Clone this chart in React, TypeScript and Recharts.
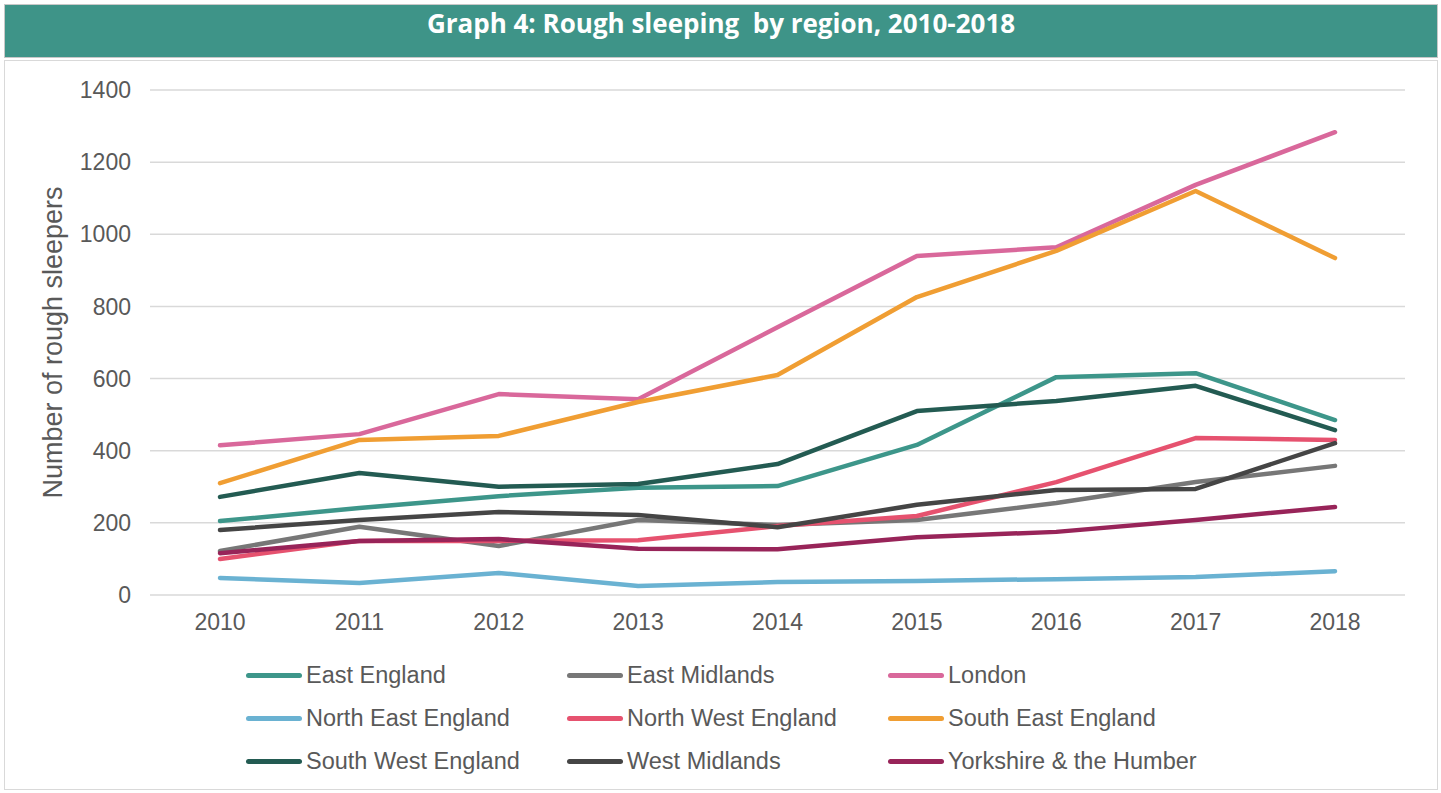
import React from 'react'
import { LineChart, Line, XAxis, YAxis, CartesianGrid, Label } from 'recharts'

const years = ['2010', '2011', '2012', '2013', '2014', '2015', '2016', '2017', '2018']

const eastEngland = [205, 241, 274, 297, 302, 416, 604, 615, 485]
const eastMidlands = [122, 189, 136, 208, 194, 208, 255, 313, 358]
const london = [415, 446, 557, 543, 742, 940, 964, 1137, 1283]
const northEast = [47, 33, 61, 25, 36, 39, 44, 50, 66]
const northWest = [100, 150, 150, 152, 191, 219, 313, 435, 430]
const southEast = [310, 430, 441, 535, 610, 826, 954, 1120, 934]
const southWest = [272, 338, 300, 308, 363, 510, 538, 580, 457]
const westMidlands = [180, 208, 230, 222, 188, 250, 291, 294, 421]
const yorkshire = [116, 150, 155, 128, 127, 160, 175, 208, 244]

const yTicks = [0, 200, 400, 600, 800, 1000, 1200, 1400]

const series = [
  { key: 'eastEngland', name: 'East England', values: eastEngland, color: '#3d968a' },
  { key: 'eastMidlands', name: 'East Midlands', values: eastMidlands, color: '#777777' },
  { key: 'london', name: 'London', values: london, color: '#d9689b' },
  { key: 'northEast', name: 'North East England', values: northEast, color: '#6ab2d2' },
  { key: 'northWest', name: 'North West England', values: northWest, color: '#e6526f' },
  { key: 'southEast', name: 'South East England', values: southEast, color: '#f09e33' },
  { key: 'southWest', name: 'South West England', values: southWest, color: '#235b52' },
  { key: 'westMidlands', name: 'West Midlands', values: westMidlands, color: '#454545' },
  { key: 'yorkshire', name: 'Yorkshire & the Humber', values: yorkshire, color: '#982459' },
]

const data = years.map((year, i) => {
  const row: Record<string, string | number> = { year }
  series.forEach((s) => {
    row[s.key] = s.values[i]
  })
  return row
})

const axisFont = '"Liberation Sans", Arial, sans-serif'

function YTitle(props: any) {
  const vb = props.viewBox || {}
  const cx = 53
  const cy = (vb.y ?? 0) + (vb.height ?? 0) / 2
  return (
    <text
      x={cx}
      y={cy}
      transform={`rotate(-90, ${cx}, ${cy})`}
      textAnchor="middle"
      dominantBaseline="central"
      fontSize={27}
      fontFamily={axisFont}
      fill="#595959"
    >
      Number of rough sleepers
    </text>
  )
}

export default function App() {
  return (
    <div
      style={{
        position: 'absolute',
        left: 0,
        top: 0,
        width: 1441,
        height: 793,
        background: '#fff',
        fontFamily: axisFont,
      }}
    >
      <div
        style={{
          position: 'absolute',
          left: 4,
          top: 4,
          width: 1432,
          height: 52,
          background: '#3e9488',
          border: '1px solid #c8c8c8',
          color: '#fff',
          fontFamily: '"Open Sans", sans-serif',
          fontWeight: 700,
          fontSize: 26,
          lineHeight: '36px',
          textAlign: 'center',
          whiteSpace: 'pre',
        }}
      >
        {'Graph 4: Rough sleeping  by region, 2010-2018'}
      </div>
      <div
        style={{
          position: 'absolute',
          left: 4,
          top: 60,
          width: 1432,
          height: 728,
          border: '1px solid #d9d9d9',
        }}
      />
      <div style={{ position: 'absolute', left: 0, top: 60 }}>
        <LineChart
          width={1441}
          height={600}
          data={data}
          margin={{ top: 30, right: 36, left: 0, bottom: 0 }}
        >
          <CartesianGrid vertical={false} stroke="#d9d9d9" strokeWidth={1.5} />
          <XAxis
            dataKey="year"
            axisLine={false}
            tickLine={false}
            tickMargin={13}
            height={65}
            padding={{ left: 70, right: 70 }}
            tick={{ fontSize: 23, fill: '#595959', fontFamily: axisFont }}
          />
          <YAxis
            width={150}
            domain={[0, 1400]}
            ticks={yTicks}
            axisLine={false}
            tickLine={false}
            tickMargin={13}
            tick={{ fontSize: 23, fill: '#595959', fontFamily: axisFont }}
          >
            <Label content={<YTitle />} />
          </YAxis>
          {series.map((s) => (
            <Line
              key={s.key}
              type="linear"
              dataKey={s.key}
              name={s.name}
              stroke={s.color}
              strokeWidth={4.5}
              strokeLinecap="round"
              strokeLinejoin="round"
              dot={false}
              activeDot={false}
              isAnimationActive={false}
            />
          ))}
        </LineChart>
      </div>
      <div
        style={{
          position: 'absolute',
          left: 246,
          top: 660,
          display: 'grid',
          gridTemplateColumns: '321px 321px 321px',
          rowGap: 13,
        }}
      >
        {series.map((s) => (
          <div
            key={s.key}
            style={{ display: 'flex', alignItems: 'center', height: 30, fontSize: 23.5, color: '#595959' }}
          >
            <span
              style={{
                display: 'inline-block',
                width: 56,
                height: 5,
                borderRadius: 3,
                background: s.color,
                marginRight: 4,
              }}
            />
            {s.name}
          </div>
        ))}
      </div>
    </div>
  )
}
